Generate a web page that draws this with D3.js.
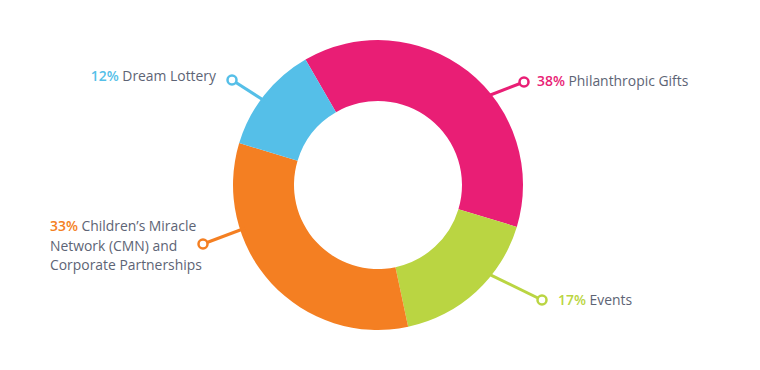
<!DOCTYPE html>
<html>
  <head>
    <meta charset="utf-8">
    <style>
      body { margin: 0; background: #fff; font-family: "Open Sans", sans-serif; }
      .label { font-size: 13.9px; fill: #5d6475; }
      .pct { font-weight: 600; }
    </style>
  </head>
  <body>
    <script src="https://cdn.jsdelivr.net/npm/d3@7"></script>
    <script>
      // data
      var categories = ["Philanthropic Gifts", "Events", "Children\u2019s Miracle Network (CMN) and Corporate Partnerships", "Dream Lottery"];
      var values = [38, 17, 33, 12];
      var colors = ["#e91e75", "#bad542", "#f47f22", "#55bfe8"];

      // label layout: dot position, angle where the leader meets the ring, text lines
      var dots = [[524, 82], [542, 300], [203, 244], [232, 80]];
      var leaderAngles = [50.8, 129, 252, 306.6];
      var textLines = [
        ["Philanthropic Gifts"],
        ["Events"],
        ["Children\u2019s Miracle", "Network (CMN) and", "Corporate Partnerships"],
        ["Dream Lottery"]
      ];
      var textAnchor = ["start", "start", "start", "end"];
      var textPos = [[537, 86], [558, 305], [50, 231], [216, 81]];

      var width = 760, height = 370;
      var cx = 378, cy = 185, outer = 145, inner = 84;

      var svg = d3.select("body").append("svg")
          .attr("width", width)
          .attr("height", height);

      var rad = Math.PI / 180;
      var pie = d3.pie().sort(null)
          .startAngle(-30 * rad)
          .endAngle(330 * rad);
      var arc = d3.arc().innerRadius(inner).outerRadius(outer);

      var data = pie(values);

      var g = svg.append("g").attr("transform", "translate(" + cx + "," + cy + ")");

      // leader lines (under the ring)
      svg.append("g").selectAll("line")
          .data(data)
          .enter().append("line")
          .attr("x1", function(d, i) { return dots[i][0]; })
          .attr("y1", function(d, i) { return dots[i][1]; })
          .attr("x2", function(d, i) { return cx + (outer - 5) * Math.sin(leaderAngles[i] * rad); })
          .attr("y2", function(d, i) { return cy - (outer - 5) * Math.cos(leaderAngles[i] * rad); })
          .style("stroke", function(d, i) { return colors[i]; })
          .style("stroke-width", 3);

      g.selectAll("path")
          .data(data)
          .enter().append("path")
          .attr("d", arc)
          .style("fill", function(d, i) { return colors[i]; });

      svg.append("g").selectAll("circle")
          .data(data)
          .enter().append("circle")
          .attr("cx", function(d, i) { return dots[i][0]; })
          .attr("cy", function(d, i) { return dots[i][1]; })
          .attr("r", 4.5)
          .style("fill", "#fff")
          .style("stroke", function(d, i) { return colors[i]; })
          .style("stroke-width", 2.5);

      var labels = svg.append("g").selectAll("text")
          .data(data)
          .enter().append("text")
          .attr("class", "label")
          .attr("x", function(d, i) { return textPos[i][0]; })
          .attr("y", function(d, i) { return textPos[i][1]; })
          .attr("text-anchor", function(d, i) { return textAnchor[i]; });

      labels.each(function(d, i) {
        var t = d3.select(this);
        textLines[i].forEach(function(line, j) {
          var ts = t.append("tspan")
              .attr("x", textPos[i][0])
              .attr("dy", j == 0 ? 0 : 19.5);
          if (j == 0) {
            ts.append("tspan").attr("class", "pct")
                .style("fill", colors[i])
                .text(values[i] + "% ");
            ts.append("tspan").text(line);
          } else {
            ts.text(line);
          }
        });
      });
    </script>
  </body>
</html>
